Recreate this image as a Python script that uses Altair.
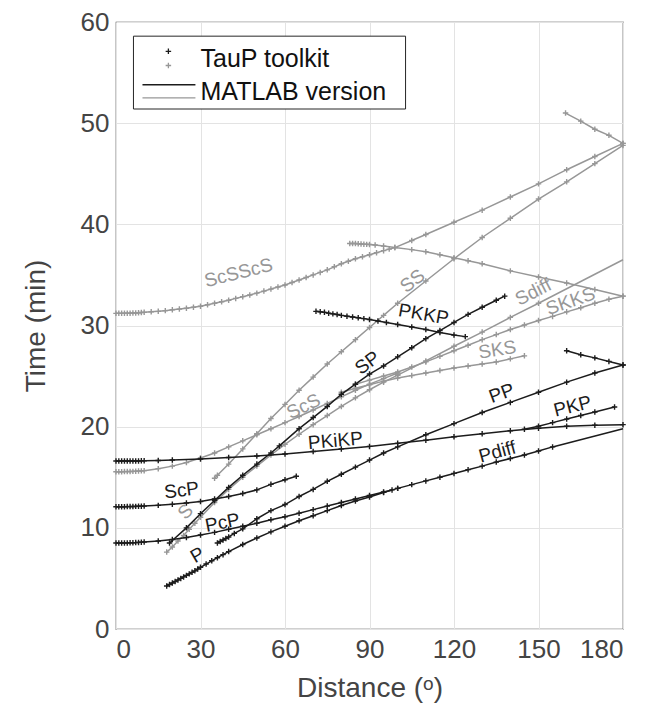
import altair as alt
import pandas as pd

# ---------------- data: epicentral distance (deg) / travel time (min) ----------------
# black (P-type) phases
P_D = [18, 19, 20, 21, 22, 23, 24, 25, 26, 27, 28, 29, 30, 32, 34, 36, 38, 40, 45, 50, 55, 60, 65, 70, 75, 80, 85, 90, 95, 100]
P_T = [4.25, 4.4, 4.55, 4.7, 4.85, 5.0, 5.15, 5.3, 5.45, 5.6, 5.75, 5.92, 6.1, 6.42, 6.74, 7.05, 7.35, 7.65, 8.35, 9.0, 9.6, 10.15, 10.7, 11.2, 11.7, 12.2, 12.65, 13.05, 13.5, 13.9]

PDIFF_D = [100, 105, 110, 115, 120, 125, 130, 135, 140, 145, 150, 155]
PDIFF_T = [13.9, 14.27, 14.64, 15.0, 15.38, 15.75, 16.1, 16.5, 16.85, 17.2, 17.6, 18.0]
PDIFF_EXT_D = [155, 180]
PDIFF_EXT_T = [18.0, 19.8]

PCP_D = [0, 1, 2, 3, 4, 5, 6, 7, 8, 9, 10, 15, 20, 25, 30, 35, 40, 45, 50, 55, 60, 65, 70, 75, 80, 85, 90, 95, 98]
PCP_T = [8.5, 8.5, 8.5, 8.5, 8.51, 8.52, 8.53, 8.54, 8.56, 8.58, 8.6, 8.7, 8.85, 9.05, 9.3, 9.55, 9.85, 10.15, 10.45, 10.8, 11.1, 11.45, 11.8, 12.15, 12.5, 12.85, 13.2, 13.55, 13.75]

SCP_D = [0, 1, 2, 3, 4, 5, 6, 7, 8, 9, 10, 15, 20, 25, 30, 35, 40, 45, 50, 55, 60, 64]
SCP_T = [12.08, 12.08, 12.08, 12.09, 12.1, 12.1, 12.11, 12.12, 12.13, 12.14, 12.15, 12.22, 12.32, 12.45, 12.6, 12.85, 13.1, 13.4, 13.75, 14.3, 14.75, 15.1]

PKIKP_D = [0, 1, 2, 3, 4, 5, 6, 7, 8, 9, 10, 15, 20, 30, 40, 50, 60, 70, 80, 90, 100, 110, 120, 130, 140, 150, 160, 170, 180]
PKIKP_T = [16.6, 16.6, 16.6, 16.6, 16.6, 16.6, 16.61, 16.61, 16.61, 16.62, 16.62, 16.65, 16.7, 16.8, 16.95, 17.1, 17.3, 17.55, 17.8, 18.05, 18.35, 18.65, 19.0, 19.3, 19.6, 19.85, 20.05, 20.15, 20.2]

PKP_D = [145, 150, 155, 160, 165, 170, 177]
PKP_T = [19.75, 20.05, 20.4, 20.75, 21.1, 21.45, 21.95]

PP_D = [36, 37, 38, 39, 40, 42, 45, 50, 55, 60, 65, 70, 75, 80, 85, 90, 95, 100, 110, 120, 130, 140, 150, 160, 170, 180]
PP_T = [8.5, 8.65, 8.8, 8.95, 9.1, 9.45, 9.9, 10.9, 11.7, 12.3, 13.1, 13.8, 14.6, 15.3, 16.0, 16.7, 17.4, 18.0, 19.2, 20.3, 21.4, 22.4, 23.4, 24.4, 25.3, 26.1]

PP2_D = [160, 165, 170, 175, 180]
PP2_T = [27.5, 27.1, 26.8, 26.45, 26.1]

SP_D = [19, 25, 30, 35, 40, 45, 50, 55, 58, 65, 70, 75, 80, 85, 90, 95, 100, 105, 110, 115, 120, 125, 130, 135, 138]
SP_T = [8.5, 10.0, 11.4, 12.7, 14.0, 15.2, 16.3, 17.4, 18.1, 19.8, 20.9, 22.0, 23.2, 24.2, 25.2, 26.0, 26.9, 27.8, 28.7, 29.5, 30.3, 31.1, 31.8, 32.5, 32.9]

PKKP_D = [71, 72.5, 74, 75.5, 77, 78.5, 80, 82, 84, 86, 88, 90, 93, 96, 100, 105, 110, 115, 120, 124]
PKKP_T = [31.4, 31.35, 31.3, 31.22, 31.15, 31.08, 31.0, 30.92, 30.84, 30.76, 30.68, 30.6, 30.45, 30.3, 30.1, 29.85, 29.6, 29.3, 29.05, 28.9]

# grey (S-type) phases
S_D = [18, 20, 22, 24, 26, 28, 30, 35, 40, 45, 50, 55, 60, 65, 70, 75, 80, 85, 90, 95, 100]
S_T = [7.6, 8.1, 8.7, 9.25, 9.85, 10.45, 11.05, 12.5, 13.8, 15.0, 16.1, 17.2, 18.25, 19.25, 20.2, 21.1, 22.0, 22.85, 23.65, 24.4, 25.1]

SDIFF_D = [100, 110, 120, 130, 140, 150]
SDIFF_T = [25.1, 26.5, 27.95, 29.35, 30.8, 32.2]
SDIFF_EXT_D = [150, 180]
SDIFF_EXT_T = [32.2, 36.5]

SCS_D = [0, 1, 2, 3, 4, 5, 6, 7, 8, 9, 10, 15, 20, 25, 30, 35, 40, 45, 50, 55, 60, 65, 70, 75, 80, 85, 90, 95, 100]
SCS_T = [15.55, 15.55, 15.55, 15.56, 15.56, 15.57, 15.58, 15.59, 15.61, 15.63, 15.65, 15.85, 16.1, 16.45, 16.9, 17.4, 18.0, 18.6, 19.2, 19.8, 20.4, 21.0, 21.65, 22.3, 22.95, 23.6, 24.2, 24.75, 25.3]

SS_D = [35, 36, 40, 45, 50, 55, 60, 65, 70, 75, 80, 85, 90, 95, 100, 110, 120, 130, 140, 150, 160, 170, 180]
SS_T = [14.9, 15.2, 16.3, 17.8, 19.3, 20.8, 22.2, 23.6, 24.9, 26.2, 27.4, 28.6, 29.8, 31.0, 32.2, 34.4, 36.6, 38.7, 40.6, 42.5, 44.2, 46.0, 47.8]

SCSSCS_D = [0, 1, 2, 3, 4, 5, 6, 7, 8, 9, 10, 12.5, 15, 17.5, 20, 22.5, 25, 27.5, 30, 32.5, 35, 37.5, 40, 42.5, 45, 47.5, 50, 52.5, 55, 57.5, 60, 62.5, 65, 67.5, 70, 72.5, 75, 77.5, 80, 82.5, 85, 87.5, 90, 92.5, 95, 97, 99,
            105, 110, 120, 130, 140, 150, 160, 170, 180]
SCSSCS_T = [31.2, 31.2, 31.2, 31.21, 31.21, 31.22, 31.23, 31.24, 31.26, 31.28, 31.3, 31.35, 31.4, 31.47, 31.55, 31.62, 31.7, 31.8, 31.9, 32.05, 32.2, 32.35, 32.5, 32.68, 32.85, 33.02, 33.2, 33.4, 33.6, 33.8, 34.0, 34.25, 34.5, 34.75, 35.0, 35.25, 35.5, 35.8, 36.1, 36.35, 36.6, 36.8, 37.0, 37.2, 37.4, 37.55, 37.7,
            38.4, 39.0, 40.2, 41.4, 42.7, 44.0, 45.4, 46.7, 48.0]

SCSB_D = [83, 84, 85, 86, 87, 88, 89, 90, 92, 95, 99, 105, 110, 115, 120, 125, 130, 140, 150, 160, 170, 180]
SCSB_T = [38.1, 38.1, 38.1, 38.08, 38.06, 38.04, 38.02, 38.0, 37.95, 37.85, 37.7, 37.5, 37.3, 37.0, 36.7, 36.4, 36.1, 35.4, 34.8, 34.2, 33.55, 32.9]

SSTOP_D = [159.6, 165, 170, 175, 180]
SSTOP_T = [51.0, 50.2, 49.4, 48.8, 48.0]

SKS_D = [80, 85, 90, 95, 100, 105, 110, 115, 120, 125, 130, 135, 140, 145]
SKS_T = [23.4, 23.8, 24.15, 24.5, 24.8, 25.05, 25.3, 25.55, 25.8, 26.0, 26.2, 26.4, 26.7, 27.0]

SKKS_D = [85, 90, 95, 100, 105, 110, 115, 120, 125, 130, 135, 140, 145, 150, 155, 160, 165, 170, 175, 180]
SKKS_T = [24.2, 24.6, 25.0, 25.4, 25.9, 26.4, 26.95, 27.5, 28.05, 28.6, 29.1, 29.6, 30.05, 30.5, 30.9, 31.35, 31.75, 32.2, 32.6, 32.9]

# phase labels
LBL_TEXT = ["ScSScS", "SS", "PKKP", "Sdiff", "SKKS", "SKS", "SP", "ScS", "PKiKP", "ScP", "S", "PcP", "P", "PP", "PKP", "Pdiff"]
LBL_D = [43.5, 105.3, 109.2, 148.2, 161.4, 135.4, 89.3, 66.6, 77.9, 23.3, 24.7, 37.8, 28.9, 136.9, 162.1, 135.4]
LBL_T = [35.2, 34.4, 31.1, 33.3, 32.4, 27.6, 26.3, 22.0, 18.6, 13.7, 11.6, 10.5, 7.3, 23.3, 22.0, 17.5]
LBL_GROUP = ["grey", "grey", "black", "grey", "grey", "grey", "black", "grey", "black", "black", "grey", "black", "black", "black", "black", "black"]
LBL_ANGLE = [346, 322, 10, 333, 341, 351, 324, 334, 355, 353, 314, 349, 330, 340, 346, 345]

# legend
LEG_NAMES = ["TauP toolkit", "MATLAB version"]
LEG_GROUPS = ["black", "grey"]

X_TICKS = [0, 30, 60, 90, 120, 150, 180]
Y_TICKS = [0, 10, 20, 30, 40, 50, 60]

BLACK = "#1c1c1c"
GREY = "#979797"
FONT = "Liberation Sans"

# ---------------- build tables ----------------
phases = [
    ("P", "black", P_D, P_T, True),
    ("Pdiff", "black", PDIFF_D, PDIFF_T, True),
    ("Pdiff_ext", "black", PDIFF_EXT_D, PDIFF_EXT_T, False),
    ("PcP", "black", PCP_D, PCP_T, True),
    ("ScP", "black", SCP_D, SCP_T, True),
    ("PKiKP", "black", PKIKP_D, PKIKP_T, True),
    ("PKP", "black", PKP_D, PKP_T, True),
    ("PP", "black", PP_D, PP_T, True),
    ("PP2", "black", PP2_D, PP2_T, True),
    ("SP", "black", SP_D, SP_T, True),
    ("PKKP", "black", PKKP_D, PKKP_T, True),
    ("S", "grey", S_D, S_T, True),
    ("Sdiff", "grey", SDIFF_D, SDIFF_T, True),
    ("Sdiff_ext", "grey", SDIFF_EXT_D, SDIFF_EXT_T, False),
    ("ScS", "grey", SCS_D, SCS_T, True),
    ("SS", "grey", SS_D, SS_T, True),
    ("ScSScS", "grey", SCSSCS_D, SCSSCS_T, True),
    ("ScSScS_b", "grey", SCSB_D, SCSB_T, True),
    ("SS_top", "grey", SSTOP_D, SSTOP_T, True),
    ("SKS", "grey", SKS_D, SKS_T, True),
    ("SKKS", "grey", SKKS_D, SKKS_T, True),
]

rows = []
for name, grp, ds, ts, marked in phases:
    for i, (d, t) in enumerate(zip(ds, ts)):
        rows.append({"phase": name, "group": grp, "d": d, "t": t, "marked": marked, "i": i})
df = pd.DataFrame(rows)

lbl = pd.DataFrame({"text": LBL_TEXT, "d": LBL_D, "t": LBL_T, "group": LBL_GROUP, "angle": LBL_ANGLE})

color_scale = alt.Scale(domain=["black", "grey"], range=[BLACK, GREY])
xs = alt.Scale(domain=[0, 180], nice=False, zero=False)
ys = alt.Scale(domain=[0, 60], nice=False, zero=False)

x_axis = alt.Axis(values=X_TICKS, title="Distance (ᵒ)", grid=True, ticks=False,
                  labelFontSize=26, titleFontSize=28, labelFont=FONT, titleFont=FONT,
                  labelColor="#444444", titleColor="#444444", titleFontWeight="normal",
                  labelPadding=7, domain=False, gridColor="#e3e3e3",
                  titleX=253.5, titleY=59, titleBaseline="middle", titleAnchor="middle")
y_axis = alt.Axis(values=Y_TICKS, title="Time (min)", grid=True, ticks=False,
                  labelFontSize=26, titleFontSize=28, labelFont=FONT, titleFont=FONT,
                  labelColor="#444444", titleColor="#444444", titleFontWeight="normal",
                  labelPadding=7, domain=False, gridColor="#e3e3e3",
                  titleX=-80, titleY=303.5, titleBaseline="middle", titleAnchor="middle")

X = alt.X("d:Q", scale=xs, axis=x_axis)
Y = alt.Y("t:Q", scale=ys, axis=y_axis)
Xn = alt.X("d:Q", scale=xs)
Yn = alt.Y("t:Q", scale=ys)

plus = "M-1,0L1,0M0,-1L0,1"

layers = []
base = alt.Chart(df)
for grp in ["grey", "black"]:
    sub = base.transform_filter(alt.datum.group == grp)
    layers.append(sub.mark_line(strokeWidth=1.5, color=BLACK if grp == "black" else GREY).encode(
        x=X if not layers else Xn, y=Y if not layers else Yn,
        detail="phase:N", order="i:Q"))
    layers.append(sub.transform_filter(alt.datum.marked).mark_point(
        shape=plus, size=30, strokeWidth=1.4, filled=False, opacity=1,
        color=BLACK if grp == "black" else GREY).encode(x=Xn, y=Yn))

labels = alt.Chart(lbl).mark_text(font=FONT, fontSize=19, align="center", baseline="middle").encode(
    x=Xn, y=Yn, text="text:N", angle=alt.Angle("angle:Q", scale=None),
    color=alt.Color("group:N", scale=color_scale, legend=None))

# legend (drawn in data coordinates)
leg_box = pd.DataFrame({"d": [6.2], "d2": [102.8], "t": [58.6], "t2": [51.4]})
leg_pts = pd.DataFrame({"d": [18.6, 18.6], "t": [57.1, 55.7], "group": LEG_GROUPS})
leg_lines = pd.DataFrame({"d": [9.4, 9.4], "d2": [28.2, 28.2], "t": [53.8, 52.5], "group": LEG_GROUPS})
leg_txt = pd.DataFrame({"d": [30.0, 30.0], "t": [56.3, 53.1], "text": LEG_NAMES})

box = alt.Chart(leg_box).mark_rect(fill="white", stroke="#262626", strokeWidth=1).encode(
    x=Xn, x2="d2:Q", y=Yn, y2="t2:Q")
lpts = alt.Chart(leg_pts).mark_point(shape=plus, size=30, strokeWidth=1.3, filled=False, opacity=1).encode(
    x=Xn, y=Yn, color=alt.Color("group:N", scale=color_scale, legend=None))
llines = alt.Chart(leg_lines).mark_rule(strokeWidth=1.4).encode(
    x=Xn, x2="d2:Q", y=Yn, color=alt.Color("group:N", scale=color_scale, legend=None))
ltxt = alt.Chart(leg_txt).mark_text(font=FONT, fontSize=25, align="left", baseline="middle", color="#111111").encode(
    x=Xn, y=Yn, text="text:N")

chart = alt.layer(*layers, labels, box, lpts, llines, ltxt).properties(
    width=507, height=607,
    padding={"left": 116, "top": 22, "right": 25, "bottom": 81},
    autosize=alt.AutoSizeParams(type="none"),
    background="white",
).configure_view(stroke="#444444", strokeWidth=1.2)

chart.save("out.html", embed_options={"renderer": "svg", "actions": False})
